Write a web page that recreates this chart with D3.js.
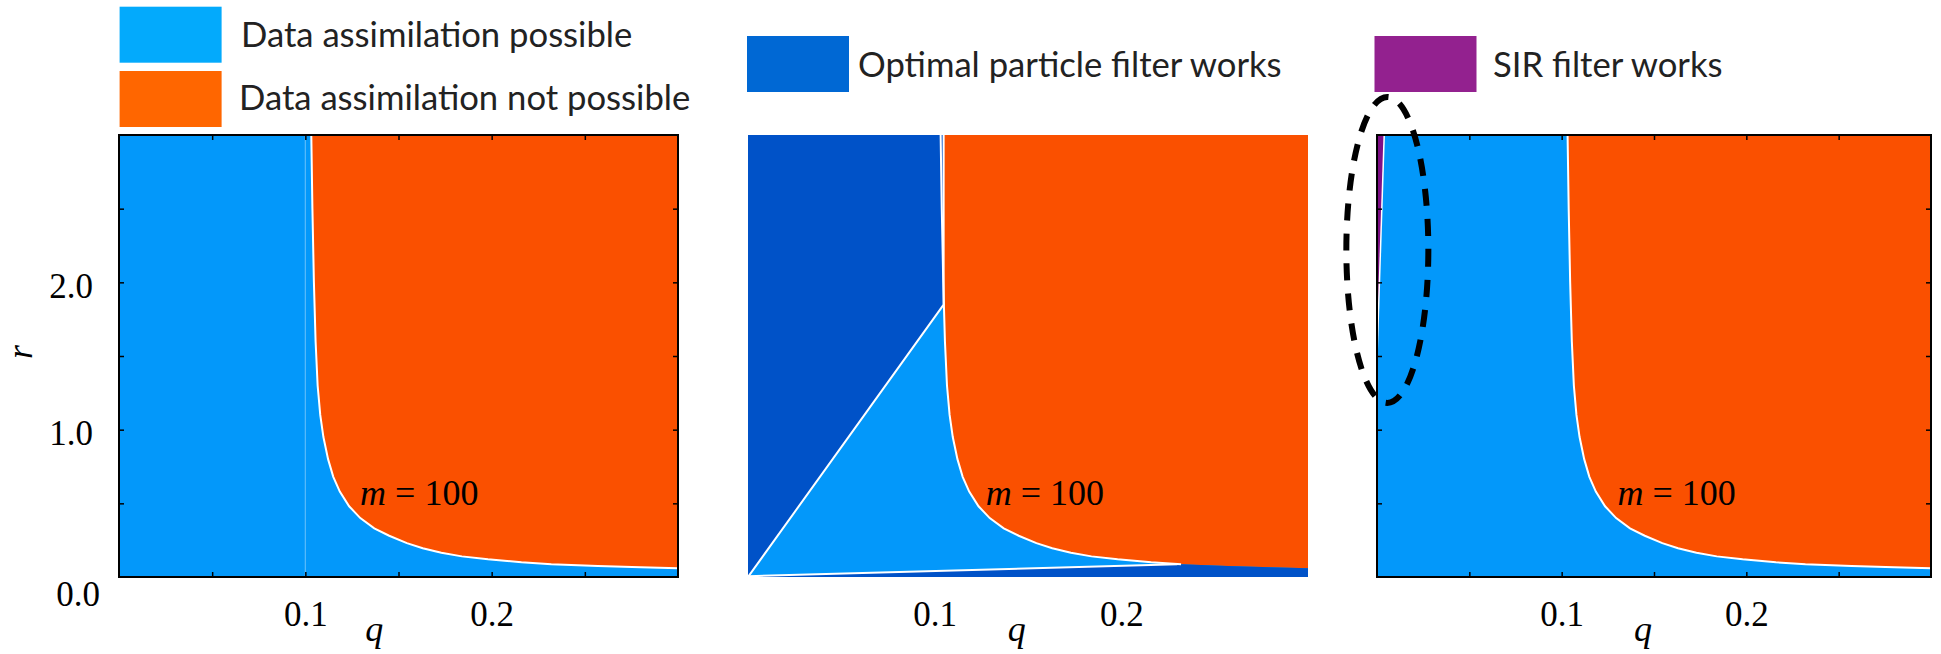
<!DOCTYPE html>
<html><head><meta charset="utf-8">
<script src="https://cdn.jsdelivr.net/npm/d3@7"></script>
<style>body{margin:0;background:#fff;} svg{display:block}</style>
</head><body><svg id="c" width="1941" height="654"></svg>
<script>
// ---------------- data ----------------
const qDomain = [0, 0.3];
const rDomain = [0, 3];
// boundary between "possible" and "not possible" (m = 100)
const boundaryQ = [0.1032,0.1038,0.1046,0.1055,0.1066,0.1080,0.1097,0.1122,0.1150,0.1185,0.1235,0.1295,0.1370,0.1450,0.1545,0.1630,0.1730,0.1840,0.1980,0.2160,0.2320,0.2570,0.2800,0.3000];
const boundaryR = [3.0,2.5,2.0,1.6,1.3,1.1,0.95,0.8,0.68,0.58,0.48,0.40,0.33,0.28,0.23,0.195,0.165,0.14,0.12,0.10,0.087,0.075,0.066,0.059];
// optimal particle filter region edges
const opfEdgeQ = [0, 0.1048, 0.1048];
const opfEdgeR = [0, 1.849, 3.0];
const opfLowQ = [0, 0.2300];
const opfLowR = [0.005, 0.087];
// SIR filter wedge
const sirQ = [0, 0.0039, 0];
const sirR = [1.49, 3.0, 3.0];
// ticks
const xTicks = [0.05, 0.1, 0.15, 0.2, 0.25];
const xLabels = [0.1, 0.2];
const yTicks = [0.5, 1, 1.5, 2, 2.5];
const yLabels = [0, 1, 2];
// texts
const legendPossible = ["Data assimilation possible", "Data assimilation not possible"];
const legendOPF = "Optimal particle filter works";
const legendSIR = "SIR filter works";
const mValue = "100";
const mLabelQ = [0.1294, 0.1274, 0.1302];
const mLabelR = 0.49;
const qLabelQ = [0.137, 0.144, 0.144];
// ellipse annotation (data coords of panel 3)
const ellipseQ = 0.0056, ellipseR = 2.22;

// ---------------- layout / style ----------------
const C = {
  light: "#0398FA", orange: "#FA5000", dark: "#0052C8", purple: "#7E0E86",
  lLight: "#03AAFC", lOrange: "#FF6600", lDark: "#0068D4", lPurple: "#93218F"
};
const panelX = [[119, 678], [748, 1308], [1377, 1931]];
const topY = 135, botY = 577;
const serif = "'Liberation Serif', 'Times New Roman', serif";
const sans = "Lato, 'Open Sans', sans-serif";

const svg = d3.select("#c");
const defs = svg.append("defs");

const pts = (qs, rs) => qs.map((q, i) => [q, rs[i]]);
const curve = pts(boundaryQ, boundaryR);

panelX.forEach((px, i) => {
  const x = d3.scaleLinear().domain(qDomain).range(px);
  const y = d3.scaleLinear().domain(rDomain).range([botY, topY]);
  const line = d3.line().x(d => x(d[0])).y(d => y(d[1]));
  const smooth = d3.line().x(d => x(d[0])).y(d => y(d[1])).curve(d3.curveMonotoneY);
  const clipId = "clip" + i;
  defs.append("clipPath").attr("id", clipId).append("rect")
    .attr("x", px[0]).attr("y", topY).attr("width", px[1] - px[0]).attr("height", botY - topY);
  const g = svg.append("g");
  const pg = g.append("g").attr("clip-path", `url(#${clipId})`);

  pg.append("rect").attr("x", px[0]).attr("y", topY).attr("width", px[1] - px[0]).attr("height", botY - topY).attr("fill", C.light);
  const orangePoly = curve.concat([[qDomain[1], rDomain[1]]]);
  pg.append("path").attr("d", line(orangePoly) + "Z").attr("fill", C.orange);

  if (i === 0) {
    pg.append("path").attr("d", line([[0.1, 0], [0.1, 3]])).attr("stroke", "rgba(255,255,255,0.35)").attr("stroke-width", 1.2).attr("fill", "none");
  }
  if (i === 1) {
    const upper = pts(opfEdgeQ, opfEdgeR).concat([[0, 3]]);
    pg.append("path").attr("d", line(upper) + "Z").attr("fill", C.dark);
    const low = pts(opfLowQ, opfLowR)
      .concat(curve.filter(d => d[0] > opfLowQ[1]))
      .concat([[qDomain[1], 0], [0, 0]]);
    pg.append("path").attr("d", line(low) + "Z").attr("fill", C.dark);
    pg.append("path").attr("d", line(pts(opfEdgeQ, opfEdgeR))).attr("stroke", "#fff").attr("stroke-width", 2).attr("fill", "none");
    pg.append("path").attr("d", line(pts(opfLowQ, opfLowR))).attr("stroke", "#fff").attr("stroke-width", 2).attr("fill", "none");
  }
  if (i === 2) {
    pg.append("path").attr("d", line(pts(sirQ, sirR)) + "Z").attr("fill", C.purple);
    pg.append("path").attr("d", line(pts(sirQ.slice(0, 2), sirR.slice(0, 2)))).attr("stroke", "#fff").attr("stroke-width", 1.5).attr("fill", "none");
  }
  const shown = i === 1 ? curve.filter(d => d[0] <= opfLowQ[1] + 0.002) : curve;
  pg.append("path").attr("d", line(shown)).attr("stroke", "#fff").attr("stroke-width", 2).attr("fill", "none");

  if (i !== 1) {
    const tk = (ax, tr) => {
      const a = g.append("g").attr("transform", tr).call(ax);
      a.select(".domain").remove();
      a.selectAll(".tick text").remove();
      a.selectAll(".tick line").attr("stroke", "#000").attr("stroke-width", 1.5);
    };
    tk(d3.axisBottom(x).tickValues(xTicks).tickSize(-5), `translate(0,${botY})`);
    tk(d3.axisTop(x).tickValues(xTicks).tickSize(-5), `translate(0,${topY})`);
    tk(d3.axisLeft(y).tickValues(yTicks).tickSize(-5), `translate(${px[0]},0)`);
    tk(d3.axisRight(y).tickValues(yTicks).tickSize(-5), `translate(${px[1]},0)`);
    g.append("rect").attr("x", px[0]).attr("y", topY).attr("width", px[1] - px[0]).attr("height", botY - topY)
      .attr("fill", "none").attr("stroke", "#000").attr("stroke-width", 2);
  }

  const xl = g.append("g").attr("transform", `translate(0,${botY})`)
    .call(d3.axisBottom(x).tickValues(xLabels).tickSize(0).tickFormat(d3.format(".1f")));
  xl.select(".domain").remove();
  xl.selectAll("text").attr("dy", null).attr("y", 49).attr("fill", "#000")
    .style("font-family", serif).style("font-size", "35px");

  g.append("text").attr("x", x(qLabelQ[i])).attr("y", 641).attr("text-anchor", "middle")
    .style("font-family", serif).style("font-style", "italic").style("font-size", "36px").text("q");

  const mt = g.append("text").attr("x", x(mLabelQ[i])).attr("y", y(mLabelR))
    .style("font-family", serif).style("font-size", "36px").attr("fill", "#000");
  mt.append("tspan").style("font-style", "italic").text("m");
  mt.append("tspan").text(" = " + mValue);

  if (i === 0) {
    const yl = g.append("g").attr("transform", `translate(93,0)`)
      .call(d3.axisLeft(y).tickValues(yLabels).tickSize(0).tickPadding(0).tickFormat(d3.format(".1f")));
    yl.select(".domain").remove();
    yl.selectAll("text").attr("dy", null).attr("x", 0)
      .attr("y", d => d === 0 ? 28 : 15)
      .attr("transform", d => d === 0 ? "translate(7,0)" : null)
      .attr("fill", "#000").style("font-family", serif).style("font-size", "35px");
    svg.append("text").attr("transform", `translate(32,352) rotate(-90)`).attr("text-anchor", "middle")
      .style("font-family", serif).style("font-style", "italic").style("font-size", "36px").text("r");
  }
  if (i === 2) {
    svg.append("ellipse").attr("cx", x(ellipseQ)).attr("cy", y(ellipseR)).attr("rx", 41).attr("ry", 153)
      .attr("fill", "none").attr("stroke", "#000").attr("stroke-width", 6).attr("stroke-dasharray", "17,13");
  }
});

// ---------------- legends ----------------
const legendItems = [
  { text: legendPossible[0], color: C.lLight, sx: 119.6, sy: 6.7, tx: 241, ty: 46.5, w: 384 },
  { text: legendPossible[1], color: C.lOrange, sx: 119.6, sy: 71, tx: 239, ty: 110, w: 444 },
  { text: legendOPF, color: C.lDark, sx: 747, sy: 36, tx: 858, ty: 76.5, w: 431 },
  { text: legendSIR, color: C.lPurple, sx: 1374.5, sy: 36, tx: 1493, ty: 76.5, w: 234 }
];
const lg = svg.append("g");
lg.selectAll("rect").data(legendItems).join("rect")
  .attr("x", d => d.sx).attr("y", d => d.sy).attr("width", 102).attr("height", 56).attr("fill", d => d.color);
const lt = lg.selectAll("text").data(legendItems).join("text")
  .attr("x", d => d.tx).attr("y", d => d.ty).attr("fill", "#222")
  .style("font-family", sans).style("font-size", "32px").text(d => d.text);
let ratios = [];
lt.each(function(d) { ratios.push(d.w / this.getComputedTextLength()); });
const fs = 32 * d3.mean(ratios);
lt.style("font-size", fs + "px");
</script></body></html>
